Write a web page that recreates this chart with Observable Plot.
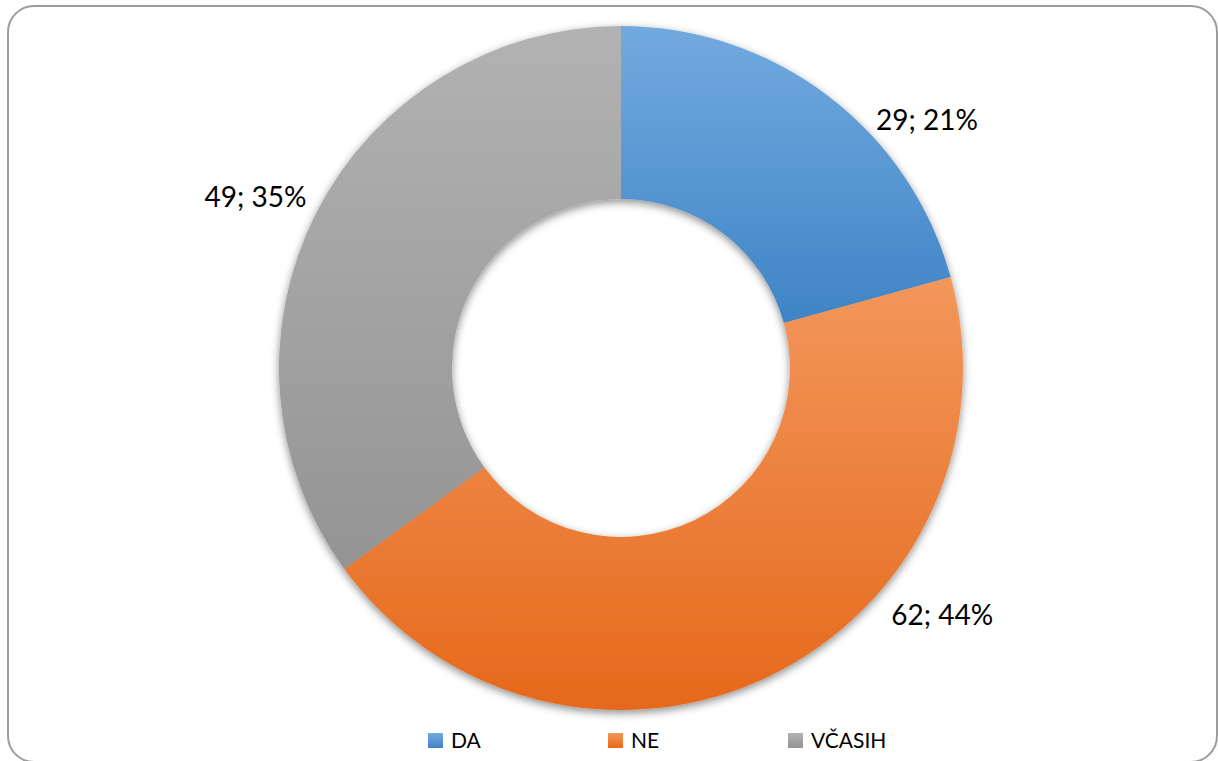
<!DOCTYPE html>
<html>
<head>
<meta charset="utf-8">
<script src="https://cdn.jsdelivr.net/npm/d3@7"></script>
<script src="https://cdn.jsdelivr.net/npm/@observablehq/plot@0.6"></script>
<style>
  html, body { margin: 0; padding: 0; background: #fff; }
  body { width: 1218px; height: 761px; overflow: hidden; position: relative; font-family: Lato, "Open Sans", sans-serif; }
  #frame { position: absolute; left: 7px; top: 5px; width: 1211px; height: 758px; border: 2px solid #9c9c9c; border-radius: 27px; box-sizing: border-box; }
  #chart { position: absolute; left: 0; top: 0; }
  #legend { position: absolute; left: 428px; top: 728px; display: flex; height: 24px; }
  #legend .item { display: flex; align-items: center; width: 180px; font-size: 21px; color: #000; line-height: 24px; }
  #legend .sw { width: 15px; height: 15px; margin-right: 8px; margin-top: 1px; }
</style>
</head>
<body>
<div id="frame"></div>
<div id="chart"></div>
<div id="legend"></div>
<script>
// ---- data ----
const categories = ["DA", "NE", "VČASIH"];
const counts = [29, 62, 49];

// ---- style ----
const topColors = ["#72AADF", "#F3975C", "#B2B2B2"];
const bottomColors = ["#3F84C6", "#E5691B", "#949494"];
const innerRatio = 0.494;
// label placement (angle clockwise from top in degrees, radius relative to outer radius)
const labelAngle = [51, 127.6, 295];
const labelRadius = [1.149, 1.184, 1.181];

const total = d3.sum(counts);
const rows = categories.map((c, i) => ({
  category: c,
  value: counts[i],
  pct: Math.round(counts[i] / total * 100),
  i
}));
const pieData = d3.pie().sort(null).value(d => d.value)(rows);

function donut(index, scales, values, dimensions, context) {
  const {x, y} = scales;
  const cx = x(0), cy = y(0);
  const R = Math.abs(x(1) - x(0));
  const arc = d3.arc().innerRadius(R * innerRatio).outerRadius(R);
  const g = d3.create("svg:g");
  const defs = g.append("defs");
  const f = defs.append("filter").attr("id", "shadow")
    .attr("x", "-20%").attr("y", "-20%").attr("width", "140%").attr("height", "140%");
  f.append("feDropShadow").attr("dx", 0).attr("dy", 3).attr("stdDeviation", 4)
    .attr("flood-color", "#000").attr("flood-opacity", 0.45);
  rows.forEach((r, i) => {
    const lg = defs.append("linearGradient").attr("id", "grad" + i)
      .attr("x1", 0).attr("y1", 0).attr("x2", 0).attr("y2", 1);
    lg.append("stop").attr("offset", "0%").attr("stop-color", topColors[i]);
    lg.append("stop").attr("offset", "100%").attr("stop-color", bottomColors[i]);
  });
  g.append("g")
    .attr("filter", "url(#shadow)")
    .attr("transform", `translate(${cx},${cy})`)
    .selectAll("path")
    .data(pieData)
    .join("path")
    .attr("d", arc)
    .attr("fill", (d, i) => `url(#grad${i})`);
  return g.node();
}

const rad = a => a * Math.PI / 180;
const chart = Plot.plot({
  width: 1218,
  height: 725,
  marginLeft: 279,
  marginRight: 255,
  marginTop: 26,
  marginBottom: 15,
  x: {domain: [-1, 1], axis: null},
  y: {domain: [-1, 1], axis: null},
  style: {background: "transparent", overflow: "visible"},
  marks: [
    donut,
    Plot.text(rows, {
      x: d => labelRadius[d.i] * Math.sin(rad(labelAngle[d.i])),
      y: d => labelRadius[d.i] * Math.cos(rad(labelAngle[d.i])),
      text: d => `${d.value}; ${d.pct}%`,
      fontSize: 28,
      fontFamily: "Lato, 'Open Sans', sans-serif",
      fill: "#000"
    })
  ]
});
document.getElementById("chart").appendChild(chart);

// legend
const legend = d3.select("#legend");
categories.forEach((c, i) => {
  const it = legend.append("div").attr("class", "item");
  it.append("div").attr("class", "sw")
    .style("background", `linear-gradient(${topColors[i]}, ${bottomColors[i]})`);
  it.append("span").text(c);
});
</script>
</body>
</html>
